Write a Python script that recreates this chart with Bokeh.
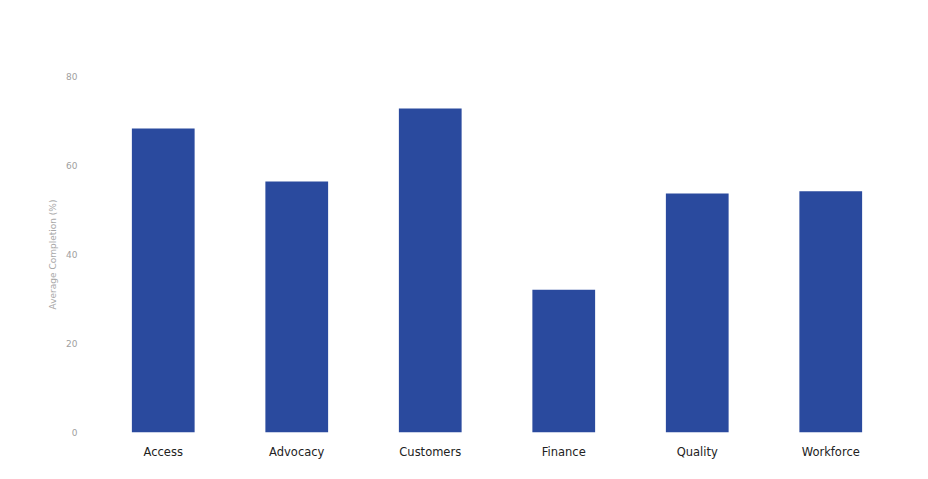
from bokeh.plotting import figure
from bokeh.models import Range1d, FactorRange
from bokeh.embed import file_html
from bokeh.resources import INLINE

categories = ["Access", "Advocacy", "Customers", "Finance", "Quality", "Workforce"]
completion = [68.3, 56.4, 72.8, 32.1, 53.7, 54.2]
y_ticks = [0, 20, 40, 60, 80]

p = figure(
    x_range=FactorRange(*categories, range_padding=0.0),
    y_range=Range1d(0, 80),
    width=928, height=479,
    output_backend="svg", toolbar_location=None,
    min_border_left=96, min_border_right=31,
    min_border_top=76, min_border_bottom=47,
)
p.vbar(x=categories, top=completion, width=0.47, color="#2a4a9e", line_color=None)

p.outline_line_color = None
p.xgrid.grid_line_color = None
p.ygrid.grid_line_color = None

p.yaxis.ticker = y_ticks
p.yaxis.axis_line_color = None
p.yaxis.major_tick_line_color = None
p.yaxis.minor_tick_line_color = None
p.yaxis.major_label_text_color = "#a0a0a0"
p.yaxis.major_label_text_font = "DejaVu Sans"
p.yaxis.major_label_text_font_size = "9px"
p.yaxis.major_label_standoff = 13
p.yaxis.axis_label = "Average Completion (%)"
p.yaxis.axis_label_text_font = "DejaVu Sans"
p.yaxis.axis_label_text_font_size = "9px"
p.yaxis.axis_label_text_font_style = "normal"
p.yaxis.axis_label_text_color = "#a8a8a8"
p.yaxis.axis_label_standoff = 5

p.xaxis.axis_line_color = None
p.xaxis.major_tick_line_color = None
p.xaxis.minor_tick_line_color = None
p.xaxis.major_label_text_color = "#222222"
p.xaxis.major_label_text_font = "DejaVu Sans"
p.xaxis.major_label_text_font_size = "11.5px"
p.xaxis.major_label_standoff = 6

open("out.html", "w").write(file_html(p, INLINE))
